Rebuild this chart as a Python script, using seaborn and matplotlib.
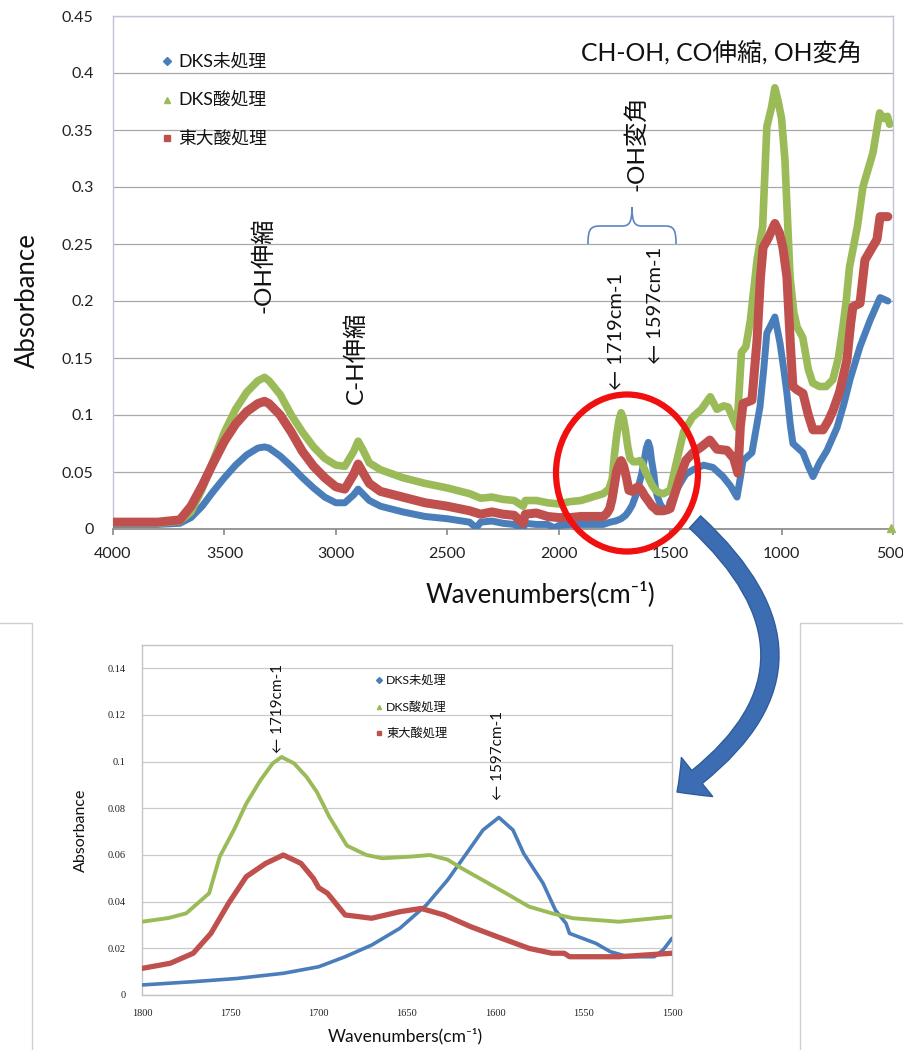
import matplotlib
matplotlib.use("Agg")
import matplotlib.pyplot as plt
import seaborn as sns
import pandas as pd
from matplotlib.patches import Ellipse, FancyArrowPatch, PathPatch
from matplotlib.path import Path
from matplotlib.lines import Line2D
from matplotlib.ticker import FuncFormatter
from matplotlib.transforms import Affine2D

sns.set_theme(style="white")
plt.rcParams["font.family"] = ["Lato", "Noto Sans CJK JP", "DejaVu Sans"]

W, H = 904, 1050

SERIES = ["DKS未処理", "DKS酸処理", "東大酸処理"]
COLORS = {"DKS未処理": "#4A7EBB", "DKS酸処理": "#9BBB59", "東大酸処理": "#C0504D"}
MARKERS = {"DKS未処理": "D", "DKS酸処理": "^", "東大酸処理": "s"}

# Full FT-IR spectra (wavenumber cm-1, absorbance)
UNTREATED = [
    (4000, 0.004), (3900, 0.004), (3800, 0.004), (3700, 0.005), (3650, 0.010),
    (3600, 0.020), (3550, 0.033), (3500, 0.045), (3450, 0.056), (3400, 0.065),
    (3350, 0.071), (3320, 0.072), (3300, 0.071), (3250, 0.064), (3200, 0.055),
    (3150, 0.045), (3100, 0.036), (3050, 0.028), (3000, 0.023), (2960, 0.023),
    (2920, 0.030), (2900, 0.035), (2880, 0.031), (2850, 0.025), (2800, 0.020),
    (2700, 0.015), (2600, 0.011), (2500, 0.009), (2400, 0.006), (2370, 0.001),
    (2350, 0.006), (2300, 0.007), (2250, 0.005), (2200, 0.004), (2160, 0.000),
    (2150, 0.005), (2100, 0.004), (2050, 0.004), (2020, 0.001), (2000, 0.003),
    (1950, 0.004), (1900, 0.004), (1850, 0.004), (1800, 0.004), (1770, 0.006),
    (1745, 0.007), (1720, 0.009), (1700, 0.012), (1685, 0.016), (1670, 0.021),
    (1655, 0.029), (1640, 0.039), (1627, 0.049), (1616, 0.061), (1607, 0.071),
    (1598, 0.076), (1590, 0.071), (1584, 0.061), (1573, 0.048), (1566, 0.036),
    (1558, 0.029), (1545, 0.022), (1535, 0.019), (1525, 0.016), (1510, 0.016),
    (1500, 0.024), (1455, 0.040), (1430, 0.048), (1397, 0.052), (1350, 0.056),
    (1308, 0.054), (1263, 0.046), (1230, 0.038), (1200, 0.028), (1185, 0.045),
    (1173, 0.060), (1133, 0.067), (1097, 0.107), (1080, 0.140), (1066, 0.172),
    (1045, 0.180), (1030, 0.186), (1007, 0.163), (990, 0.140), (976, 0.119),
    (960, 0.090), (949, 0.075), (904, 0.067), (880, 0.055), (859, 0.046),
    (830, 0.058), (796, 0.069), (751, 0.089), (720, 0.110), (693, 0.131),
    (648, 0.160), (603, 0.183), (558, 0.203), (523, 0.200),
]
DKS_ACID = [
    (4000, 0.005), (3900, 0.005), (3800, 0.005), (3700, 0.007), (3650, 0.015),
    (3600, 0.035), (3550, 0.060), (3500, 0.085), (3450, 0.105), (3400, 0.120),
    (3350, 0.130), (3320, 0.133), (3300, 0.130), (3250, 0.118), (3200, 0.100),
    (3150, 0.085), (3100, 0.072), (3050, 0.062), (3000, 0.056), (2960, 0.055),
    (2920, 0.068), (2900, 0.077), (2880, 0.070), (2850, 0.058), (2800, 0.052),
    (2700, 0.045), (2600, 0.040), (2500, 0.036), (2400, 0.031), (2350, 0.027),
    (2300, 0.028), (2250, 0.026), (2200, 0.025), (2160, 0.020), (2150, 0.025),
    (2100, 0.025), (2050, 0.023), (2000, 0.022), (1950, 0.024), (1900, 0.025),
    (1850, 0.028), (1800, 0.031), (1775, 0.035), (1760, 0.044), (1750, 0.065),
    (1740, 0.082), (1730, 0.095), (1720, 0.102), (1710, 0.097), (1700, 0.086),
    (1690, 0.072), (1680, 0.062), (1665, 0.059), (1650, 0.059), (1637, 0.060),
    (1625, 0.057), (1610, 0.050), (1595, 0.044), (1580, 0.038), (1565, 0.034),
    (1550, 0.032), (1530, 0.031), (1500, 0.034), (1470, 0.060), (1440, 0.085),
    (1400, 0.098), (1360, 0.105), (1320, 0.116), (1290, 0.105), (1260, 0.108),
    (1240, 0.107), (1220, 0.098), (1200, 0.089), (1180, 0.155), (1160, 0.160),
    (1140, 0.183), (1110, 0.236), (1085, 0.265), (1066, 0.353), (1045, 0.370),
    (1030, 0.387), (1015, 0.375), (1000, 0.360), (985, 0.324), (962, 0.221),
    (945, 0.190), (930, 0.177), (905, 0.168), (880, 0.140), (860, 0.128),
    (830, 0.125), (800, 0.125), (770, 0.131), (745, 0.150), (725, 0.177),
    (710, 0.200), (695, 0.230), (660, 0.265), (635, 0.300), (590, 0.330),
    (560, 0.365), (540, 0.360), (525, 0.362), (515, 0.355),
]
DKS_ACID_LAST = (508, 0.001)
TODAI_ACID = [
    (4000, 0.006), (3900, 0.006), (3800, 0.006), (3700, 0.008), (3650, 0.020),
    (3600, 0.038), (3550, 0.058), (3500, 0.077), (3450, 0.092), (3400, 0.103),
    (3350, 0.110), (3320, 0.112), (3300, 0.110), (3250, 0.100), (3200, 0.085),
    (3150, 0.068), (3100, 0.055), (3050, 0.045), (3000, 0.037), (2960, 0.035),
    (2920, 0.048), (2900, 0.057), (2880, 0.050), (2850, 0.040), (2800, 0.033),
    (2700, 0.028), (2600, 0.023), (2500, 0.020), (2400, 0.016), (2350, 0.013),
    (2300, 0.015), (2250, 0.013), (2200, 0.012), (2160, 0.005), (2150, 0.013),
    (2100, 0.014), (2050, 0.011), (2000, 0.010), (1950, 0.010), (1900, 0.011),
    (1850, 0.011), (1800, 0.011), (1783, 0.014), (1771, 0.018), (1761, 0.026),
    (1750, 0.039), (1740, 0.051), (1730, 0.056), (1720, 0.060), (1710, 0.056),
    (1702, 0.050), (1695, 0.044), (1685, 0.034), (1670, 0.033), (1654, 0.036),
    (1642, 0.037), (1629, 0.034), (1614, 0.029), (1599, 0.025), (1581, 0.020),
    (1568, 0.018), (1558, 0.016), (1530, 0.016), (1500, 0.018), (1455, 0.046),
    (1430, 0.060), (1397, 0.067), (1360, 0.072), (1322, 0.078), (1290, 0.070),
    (1245, 0.069), (1215, 0.062), (1196, 0.049), (1185, 0.090), (1173, 0.110),
    (1133, 0.113), (1110, 0.166), (1095, 0.220), (1083, 0.247), (1060, 0.255),
    (1030, 0.268), (1010, 0.260), (994, 0.247), (976, 0.221), (960, 0.160),
    (949, 0.125), (930, 0.122), (904, 0.119), (880, 0.100), (859, 0.087),
    (814, 0.087), (790, 0.095), (769, 0.104), (740, 0.120), (707, 0.148),
    (690, 0.180), (680, 0.195), (648, 0.198), (626, 0.236), (590, 0.248),
    (572, 0.254), (558, 0.274), (523, 0.274),
]

# Expanded 1800-1500 cm-1 region
UNTREATED_ZOOM = [
    (1800, 0.0043), (1771, 0.0057), (1746, 0.0071), (1720, 0.0093), (1700, 0.0121),
    (1685, 0.0164), (1670, 0.0214), (1654, 0.0286), (1639, 0.0386), (1627, 0.0493),
    (1616, 0.0610), (1607, 0.0707), (1598, 0.0761), (1590, 0.0707), (1584, 0.0607),
    (1573, 0.0479), (1566, 0.0364), (1560, 0.0307), (1558, 0.0264), (1543, 0.0221),
    (1535, 0.0186), (1525, 0.0164), (1510, 0.0164), (1505, 0.0193), (1500, 0.0243),
]
DKS_ACID_ZOOM = [
    (1800, 0.0314), (1785, 0.0330), (1775, 0.0350), (1762, 0.0436), (1756, 0.0593),
    (1748, 0.0707), (1741, 0.0820), (1733, 0.0920), (1726, 0.0993), (1721, 0.1020),
    (1714, 0.0993), (1707, 0.0936), (1701, 0.0870), (1694, 0.0764), (1684, 0.0640),
    (1673, 0.0600), (1664, 0.0586), (1648, 0.0593), (1637, 0.0600), (1627, 0.0580),
    (1619, 0.0543), (1604, 0.0479), (1594, 0.0436), (1581, 0.0379), (1568, 0.0350),
    (1556, 0.0329), (1530, 0.0314), (1500, 0.0336),
]
TODAI_ACID_ZOOM = [
    (1800, 0.0114), (1784, 0.0136), (1771, 0.0179), (1761, 0.0264), (1751, 0.0393),
    (1741, 0.0507), (1730, 0.0564), (1720, 0.0600), (1710, 0.0564), (1703, 0.0500),
    (1700, 0.0460), (1695, 0.0436), (1685, 0.0343), (1670, 0.0329), (1654, 0.0357),
    (1642, 0.0371), (1629, 0.0343), (1614, 0.0293), (1599, 0.0250), (1581, 0.0200),
    (1568, 0.0179), (1561, 0.0179), (1558, 0.0164), (1530, 0.0164), (1500, 0.0179),
]

TOP_YTICKS = [0, 0.05, 0.1, 0.15, 0.2, 0.25, 0.3, 0.35, 0.4, 0.45]
TOP_XTICKS = [4000, 3500, 3000, 2500, 2000, 1500, 1000, 500]
ZOOM_YTICKS = [0, 0.02, 0.04, 0.06, 0.08, 0.1, 0.12, 0.14]
ZOOM_XTICKS = [1800, 1750, 1700, 1650, 1600, 1550, 1500]


def to_frame(groups):
    rows = []
    for name, pts in groups.items():
        for wn, a in pts:
            rows.append({"wn": wn, "absorbance": a, "sample": name})
    return pd.DataFrame(rows)


fig = plt.figure(figsize=(W / 100, H / 100), dpi=100)
fig.patch.set_facecolor("white")
# pixel coordinates (origin top-left) for decorations
PX = Affine2D().scale(1 / W, -1 / H).translate(0, 1) + fig.transFigure

fmt = FuncFormatter(lambda v, p: f"{v:g}")

# ---------------- full spectrum ----------------
ax = fig.add_axes([113 / W, 1 - 529 / H, 780 / W, 513 / H])
full = to_frame({SERIES[0]: UNTREATED, SERIES[1]: DKS_ACID, SERIES[2]: TODAI_ACID})
sns.lineplot(data=full, x="wn", y="absorbance", hue="sample", hue_order=SERIES,
             palette=COLORS, size="sample", sizes={SERIES[0]: 5.0, SERIES[1]: 5.5, SERIES[2]: 6.5},
             sort=False, estimator=None, legend=False, ax=ax, zorder=3)
ax.plot([DKS_ACID_LAST[0]], [DKS_ACID_LAST[1]], marker="^", ms=6,
        color=COLORS[SERIES[1]], ls="none", zorder=3, clip_on=False)
ax.set_xlim(4000, 500)
ax.set_ylim(0, 0.45)
ax.set_yticks(TOP_YTICKS)
ax.set_xticks(TOP_XTICKS)
ax.xaxis.set_major_formatter(fmt)
ax.yaxis.set_major_formatter(fmt)
ax.grid(axis="y", color="#a8a8a8", lw=0.9)
ax.grid(axis="x", visible=False)
for s in ["top", "right", "left"]:
    ax.spines[s].set_color("#c2c4d6")
    ax.spines[s].set_linewidth(1.0)
ax.spines["bottom"].set_color("#8c8c8c")
ax.tick_params(axis="x", direction="out", length=4, color="#8c8c8c", pad=9,
               labelsize=11.5, labelcolor="#222222", bottom=True)
ax.tick_params(axis="y", length=0, pad=14, labelsize=11.5, labelcolor="#222222")
# the last wavenumber label runs up to the right edge of the figure
last = ax.get_xticklabels()[-1]
last.set_horizontalalignment("right")
last.set_transform(last.get_transform() + Affine2D().translate(11, 0))
ax.set_xlabel("")
ax.set_ylabel("")
fig.text(27, 301, "Absorbance", transform=PX, rotation=90, ha="center", va="center",
         fontsize=18.5, color="#111111")
fig.text(540, 594, "Wavenumbers(cm⁻¹)", transform=PX, ha="center", va="center",
         fontsize=18.5, color="#111111")

# legend
for i, name in enumerate(SERIES):
    y = 61 + i * 38.5
    fig.add_artist(Line2D([167], [y], transform=PX, marker=MARKERS[name], ms=4.5,
                          color=COLORS[name], ls="none"))
    fig.text(178, y, name, transform=PX, ha="left", va="center", fontsize=12.8,
             color="#111111")

# band annotations
fig.text(722, 52, "CH-OH, CO伸縮, OH変角", transform=PX, ha="center", va="center",
         fontsize=17.8, color="#111111")
fig.text(263, 265, "-OH伸縮", transform=PX, rotation=90, ha="center", va="center",
         fontsize=17.5, color="#111111")
fig.text(356, 358, "C-H伸縮", transform=PX, rotation=90, ha="center", va="center",
         fontsize=17.5, color="#111111")
fig.text(636, 143, "-OH変角", transform=PX, rotation=90, ha="center", va="center",
         fontsize=17.5, color="#111111")
fig.text(617, 331, "← 1719cm-1", transform=PX, rotation=90, ha="center", va="center",
         fontsize=14.5, color="#111111")
fig.text(656, 305, "← 1597cm-1", transform=PX, rotation=90, ha="center", va="center",
         fontsize=14.5, color="#111111")

# curly brace over the OH bending region
brace = Path(
    [(588, 244), (588, 230), (590, 226), (600, 226), (622, 226),
     (629, 226), (632, 223), (632, 207), (632, 223), (635, 226), (642, 226),
     (665, 226), (674, 226), (676, 230), (676, 244)],
    [Path.MOVETO, Path.CURVE4, Path.CURVE4, Path.CURVE4, Path.LINETO,
     Path.CURVE4, Path.CURVE4, Path.CURVE4, Path.CURVE4, Path.CURVE4, Path.CURVE4,
     Path.LINETO, Path.CURVE4, Path.CURVE4, Path.CURVE4],
)
fig.add_artist(PathPatch(brace, transform=PX, fill=False, edgecolor="#5b84c4", lw=1.2))

# highlight ring
fig.add_artist(Ellipse((627, 473), 142, 157, transform=PX, fill=False,
                       edgecolor="#f01010", lw=4.5, zorder=5))

# curved pointer to the expanded view
fig.add_artist(FancyArrowPatch(
    posA=(695, 522), posB=(677, 792), transform=PX,
    connectionstyle="arc3,rad=-0.62",
    arrowstyle="simple,head_length=18,head_width=36,tail_width=12",
    mutation_scale=1, shrinkA=0, shrinkB=0,
    facecolor="#3c6db3", edgecolor="#2f5c9c", lw=1.0, zorder=6))

# neighbouring panel outlines
fig.add_artist(Line2D([0, 32, 32], [623, 623, 1050], transform=PX, color="#cfcfcf", lw=1.0))
fig.add_artist(Line2D([904, 800, 800], [623, 623, 1050], transform=PX, color="#cfcfcf", lw=1.0))

# ---------------- expanded view ----------------
bx = fig.add_axes([142 / W, 1 - 995 / H, 530 / W, 350 / H])
zoom = to_frame({SERIES[0]: UNTREATED_ZOOM, SERIES[1]: DKS_ACID_ZOOM, SERIES[2]: TODAI_ACID_ZOOM})
sns.lineplot(data=zoom, x="wn", y="absorbance", hue="sample", hue_order=SERIES,
             palette=COLORS, size="sample", sizes={SERIES[0]: 2.6, SERIES[1]: 2.8, SERIES[2]: 3.8},
             sort=False, estimator=None, legend=False, ax=bx, zorder=3)
bx.set_xlim(1800, 1500)
bx.set_ylim(0, 0.15)
bx.set_yticks(ZOOM_YTICKS)
bx.set_xticks(ZOOM_XTICKS)
bx.xaxis.set_major_formatter(fmt)
bx.yaxis.set_major_formatter(fmt)
bx.grid(axis="y", color="#cacaca", lw=0.9)
bx.grid(axis="x", visible=False)
for s in bx.spines.values():
    s.set_color("#c4c4c4")
    s.set_linewidth(1.0)
bx.tick_params(axis="x", direction="out", length=3, color="#b0b0b0", pad=7)
bx.tick_params(axis="y", length=0, pad=12)
for lab in bx.get_xticklabels() + bx.get_yticklabels():
    lab.set_family(["Liberation Serif", "DejaVu Serif"])
    lab.set_fontsize(7.5)
    lab.set_color("#222222")
bx.set_xlabel("")
bx.set_ylabel("")
fig.text(81, 830, "Absorbance", transform=PX, rotation=90, ha="center", va="center",
         fontsize=11.5, color="#111111")
fig.text(405, 1036, "Wavenumbers(cm⁻¹)", transform=PX, ha="center", va="center",
         fontsize=12.5, color="#111111")

for i, name in enumerate(SERIES):
    y = 680 + i * 26.5
    fig.add_artist(Line2D([379], [y], transform=PX, marker=MARKERS[name], ms=3,
                          color=COLORS[name], ls="none"))
    fig.text(386, y, name, transform=PX, ha="left", va="center", fontsize=8.8,
             color="#111111")

fig.text(278, 708, "← 1719cm-1", transform=PX, rotation=90, ha="center", va="center",
         fontsize=11, color="#111111")
fig.text(498, 755, "← 1597cm-1", transform=PX, rotation=90, ha="center", va="center",
         fontsize=11, color="#111111")

fig.savefig("out.png", dpi=100, facecolor="white")
